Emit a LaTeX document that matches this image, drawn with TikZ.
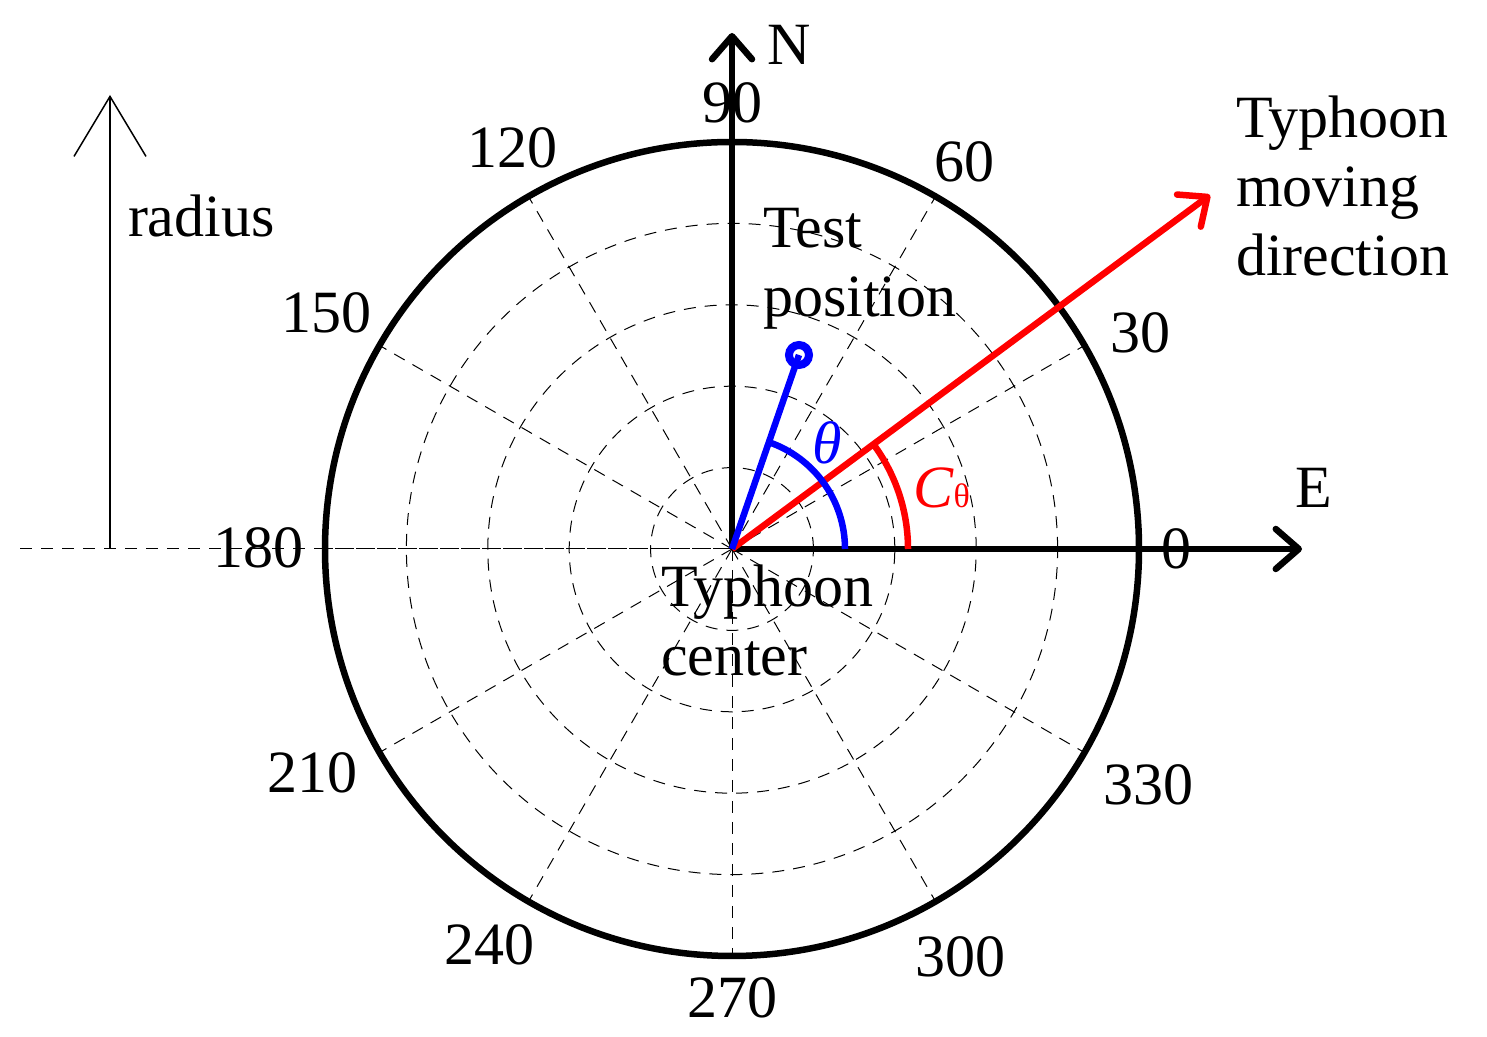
\documentclass[tikz,border=0pt]{standalone}
\usepackage{fontspec}
\setmainfont{Liberation Serif}
\usetikzlibrary{arrows.meta}
\newcommand{\mlines}[1]{\begin{tabular}[t]{@{}l@{}}#1\end{tabular}}
\begin{document}
\begin{tikzpicture}[x=0.5pt,y=0.5pt,
  txt/.style={font=\fontsize{30}{34.5}\selectfont, inner sep=0pt, outer sep=0pt},
  num/.style={txt, anchor=center},
  gridline/.style={line width=0.5pt, dash pattern=on 6pt off 4.5pt},
  thickline/.style={line width=3.25pt},
  axisarrow/.style={thickline, -{Straight Barb[length=11.5pt,width=20pt,round]}},
]
\useasboundingbox (0,0) rectangle (1487,1037);
\coordinate (O) at (732,488);
% grid
\foreach \r in {81.4,162.8,244.2,325.6} \draw[gridline] (O) circle[radius=\r];
\foreach \a in {30,60,...,330} \draw[gridline] (O) -- ++(\a:407);
\coordinate (W) at (20,488);
\draw[gridline] (W) -- (O);
% outer circle
\draw[thickline] (O) circle[radius=407];
% axes
\coordinate (Ntip) at (732,1004);
\coordinate (Etip) at (1302,488);
\draw[axisarrow] (O) -- (Ntip);
\draw[axisarrow] (O) -- (Etip);
% moving direction
\coordinate (Mtip) at (1210,842);
\draw[axisarrow, red] (O) -- (Mtip);
\draw[thickline, red] ([shift={(0:176)}]O) arc[start angle=0, end angle=36.5, radius=176];
% test position
\draw[thickline, blue] (O) -- (799,682) coordinate (Tc);
\node[circle, draw=blue, line width=4pt, minimum size=10pt, inner sep=0pt, outer sep=0pt] (T) at (Tc) {};
\draw[thickline, blue] ([shift={(0:113)}]O) arc[start angle=0, end angle=70.9, radius=113];
% angle labels
\node[txt, blue, anchor=center] (th) at (827,594) {\textit{θ}};
\node[txt, red, anchor=base west] (ct) at (913,529) {\textit{C}{\fontsize{17}{17}\selectfont θ}};
% radius arrow
\coordinate (Rb) at (110,488);
\coordinate (Rt) at (110,942);
\draw[line width=0.75pt, -{Straight Barb[length=30pt,width=36pt]}] (Rb) -- (Rt);
\node[txt, anchor=base west] (rad) at (128,800) {radius};
% axis letters
\node[txt, anchor=base west] (N) at (767,972) {N};
\node[txt, anchor=base west] (E) at (1295,529) {E};
% angle numbers
\node[num] (l90) at (732,934) {90};
\node[num] (l120) at (512,889) {120};
\node[num] (l60) at (964,875) {60};
\node[num] (l150) at (326,724) {150};
\node[num] (l30) at (1140,704) {30};
\node[num] (l180) at (258,489) {180};
\node[num] (l0) at (1176,488) {0};
\node[num] (l210) at (312,264) {210};
\node[num] (l330) at (1148,252) {330};
\node[num] (l240) at (489,92) {240};
\node[num] (l300) at (960,80) {300};
\node[num] (l270) at (732,39) {270};
% texts
\node[txt, anchor=base west] (tp) at (763,789) {\mlines{Test\\position}};
\node[txt, anchor=base west] (tc) at (661,430) {\mlines{Typhoon\\center}};
\node[txt, anchor=base west] (tm) at (1236,899) {\mlines{Typhoon\\moving\\direction}};
\end{tikzpicture}
\end{document}
